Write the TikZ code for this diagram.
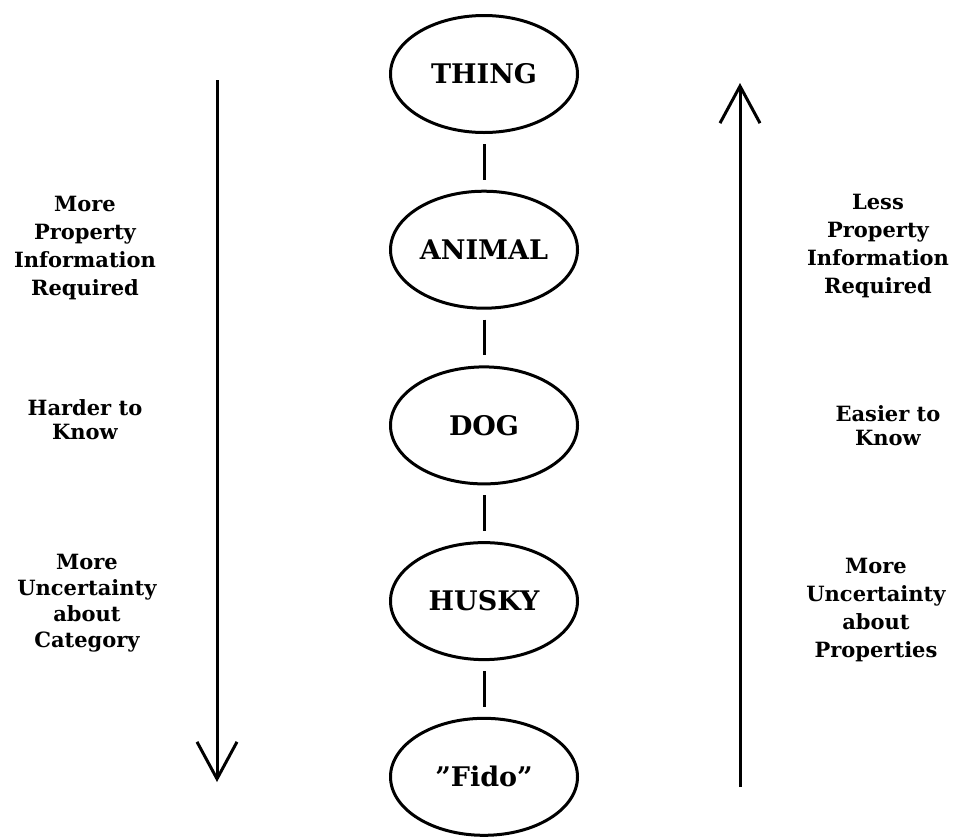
\documentclass[tikz,border=0pt]{standalone}
\usepackage{fontspec}
\setmainfont{DejaVu Serif}
\usetikzlibrary{positioning}
\usetikzlibrary{shapes.geometric}
\usetikzlibrary{arrows.meta}
\tikzset{cat/.style={ellipse,draw,line width=3pt,minimum width=187pt,minimum height=117pt,inner sep=0pt,font=\fontsize{27}{32}\selectfont\bfseries}}
\tikzset{side/.style={align=center,font=\fontsize{21}{28}\selectfont\bfseries}}
\tikzset{link/.style={line width=3pt,shorten <=10pt,shorten >=10pt}}
\tikzset{bigarrow/.style={line width=3pt,-{Straight Barb[length=37pt,width=40pt,line width=3pt]}}}

\begin{document}
\begin{tikzpicture}[x=1pt,y=-1pt]
\useasboundingbox (0,0) rectangle (955,839);
% the chain of categories
\node[cat] (thing) at (484,74) {THING};
\node[cat,below=55.7pt of thing] (animal) {ANIMAL};
\node[cat,below=55.7pt of animal] (dog) {DOG};
\node[cat,below=55.7pt of dog] (husky) {HUSKY};
\node[cat,below=55.7pt of husky] (fido) {''Fido''};
\draw[link] (thing) -- (animal);
\draw[link] (animal) -- (dog);
\draw[link] (dog) -- (husky);
\draw[link] (husky) -- (fido);
% arrows
\coordinate (downtop) at (217,80);
\coordinate (downend) at (217,782);
\coordinate (upbot) at (740,787);
\coordinate (upend) at (740,83);
\draw[bigarrow] (downtop) -- (downend);
\draw[bigarrow] (upbot) -- (upend);
% left side
\node[side] (moreinfo) at (85,248) {More\\Property\\Information\\Required};
\node[side,font=\fontsize{21}{24}\selectfont\bfseries] (harder) at (85,420) {Harder to\\Know};
\node[side,font=\fontsize{21}{26}\selectfont\bfseries] (morecat) at (87,603) {More\\Uncertainty\\about\\Category};
% right side
\node[side] (lessinfo) at (878,246) {Less\\Property\\Information\\Required};
\node[side,font=\fontsize{21}{24}\selectfont\bfseries] (easier) at (888,426) {Easier to\\Know};
\node[side] (moreprop) at (876,610) {More\\Uncertainty\\about\\Properties};
\end{tikzpicture}
\end{document}
